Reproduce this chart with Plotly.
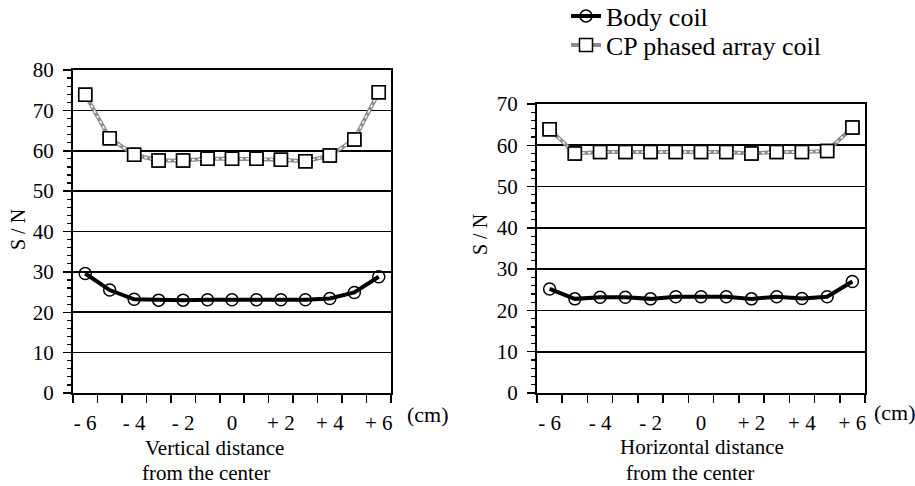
import plotly.graph_objects as go

# ---- data ----
x_cm = [-6, -5, -4, -3, -2, -1, 0, 1, 2, 3, 4, 5, 6]
x_tickvals = [-6, -4, -2, 0, 2, 4, 6]
x_ticktext = ["- 6", "- 4", "- 2", "0", "+ 2", "+ 4", "+ 6"]

body_vertical = [29.6, 25.5, 23.2, 23.0, 23.0, 23.1, 23.1, 23.1, 23.1, 23.1, 23.4, 24.9, 28.8]
cp_vertical = [73.9, 63.1, 59.0, 57.6, 57.6, 58.0, 58.0, 58.0, 57.8, 57.4, 58.8, 62.8, 74.5]

body_horizontal = [25.2, 22.8, 23.2, 23.2, 22.8, 23.3, 23.3, 23.3, 22.8, 23.3, 22.9, 23.3, 27.0]
cp_horizontal = [63.9, 58.0, 58.4, 58.4, 58.4, 58.4, 58.4, 58.4, 58.0, 58.4, 58.4, 58.6, 64.3]

series_names = ["Body coil", "CP phased array coil"]

FONT = "Liberation Serif"
W, H = 915, 486

fig = go.Figure()

def add_panel(xa, ya, body, cp, show_legend):
    fig.add_trace(go.Scatter(
        x=x_cm, y=body, xaxis=xa, yaxis=ya, mode="lines+markers",
        name=series_names[0], showlegend=show_legend, legend="legend",
        line=dict(color="black", width=4),
        marker=dict(symbol="circle-open", size=12, color="black", line=dict(width=1.5)),
    ))
    fig.add_trace(go.Scatter(
        x=x_cm, y=cp, xaxis=xa, yaxis=ya, mode="lines+markers",
        name=series_names[1], showlegend=show_legend, legend="legend2",
        line=dict(color="#8c8c8c", width=4),
        marker=dict(symbol="square", size=13, color="white", line=dict(color="black", width=1.5)),
    ))
    fig.add_trace(go.Scatter(
        x=x_cm, y=cp, xaxis=xa, yaxis=ya, mode="lines", showlegend=False,
        hoverinfo="skip", line=dict(color="white", width=1.5, dash="dot"),
    ))
    fig.add_trace(go.Scatter(
        x=x_cm, y=cp, xaxis=xa, yaxis=ya, mode="markers", showlegend=False,
        hoverinfo="skip",
        marker=dict(symbol="square", size=13, color="rgba(255,255,255,0.6)", line=dict(color="black", width=1.5)),
    ))

add_panel("x", "y", body_vertical, cp_vertical, True)
add_panel("x2", "y2", body_horizontal, cp_horizontal, False)

def xaxis_cfg(domain, anchor):
    return dict(
        domain=domain, anchor=anchor, range=[-6.5, 6.5], automargin=False,
        tickmode="array", tickvals=x_tickvals, ticktext=x_ticktext,
        ticks="", ticklabelstandoff=10,
        minor=dict(tickmode="linear", tick0=0.5, dtick=1, ticks="outside",
                   ticklen=8, tickwidth=1.5, tickcolor="black"),
        showline=True, linecolor="black", linewidth=2, mirror=True,
        showgrid=False, zeroline=False,
        tickfont=dict(family=FONT, size=21, color="black"),
    )

def yaxis_cfg(domain, anchor, top):
    return dict(
        domain=domain, anchor=anchor, range=[0, top], automargin=False,
        tickmode="linear", tick0=0, dtick=10,
        ticks="outside", ticklen=8, tickwidth=1.5, tickcolor="black",
        minor=dict(tickmode="linear", tick0=0, dtick=2, ticks="outside",
                   ticklen=4, tickwidth=1.2, tickcolor="black", showgrid=False),
        showline=True, linecolor="black", linewidth=2, mirror=True,
        showgrid=True, gridcolor="black", gridwidth=1.6, zeroline=False,
        ticklabelstandoff=5,
        tickfont=dict(family=FONT, size=21, color="black"),
    )

def legend_cfg(ycenter):
    return dict(x=566 / W, y=1 - ycenter / H, xanchor="left", yanchor="middle",
                font=dict(family=FONT, size=26, color="black"),
                itemwidth=30, bgcolor="rgba(0,0,0,0)", borderwidth=0)

y_bottom = (H - 393) / H
fig.update_layout(
    width=W, height=H,
    margin=dict(l=0, r=0, t=0, b=0, autoexpand=False),
    paper_bgcolor="white", plot_bgcolor="white",
    font=dict(family=FONT, color="black"),
    xaxis=xaxis_cfg([73 / W, 391 / W], "y"),
    yaxis=yaxis_cfg([y_bottom, (H - 70) / H], "x", 80),
    xaxis2=xaxis_cfg([537 / W, 865 / W], "y2"),
    yaxis2=yaxis_cfg([y_bottom, (H - 104) / H], "x2", 70),
    legend=legend_cfg(16),
    legend2=legend_cfg(45),
    showlegend=True,
)

def ann(text, x, y, size=21, angle=0, xanchor="center"):
    fig.add_annotation(text=text, x=x / W, y=1 - y / H, xref="paper", yref="paper",
                       showarrow=False, textangle=angle,
                       font=dict(family=FONT, size=size, color="black"),
                       xanchor=xanchor, yanchor="middle")

ann("S / N", 18, 230, 20, -90)
ann("S / N", 480, 235, 20, -90)
ann("(cm)", 405, 414, 22, xanchor="left")
ann("(cm)", 872, 412, 22, xanchor="left")
ann("Vertical distance", 214, 448, 21)
ann("from the center", 206, 473, 21)
ann("Horizontal distance", 702, 447, 21)
ann("from the center", 690, 473, 21)

fig.write_html(
    "out.html",
    config={"displayModeBar": False, "staticPlot": True},
    post_script="document.body.style.margin='0';document.body.style.overflow='hidden';",
)
